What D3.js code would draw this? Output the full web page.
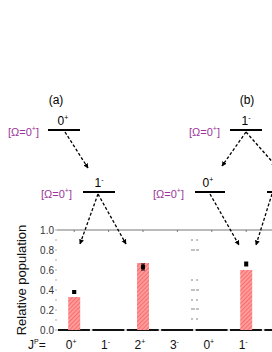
<!DOCTYPE html>
<html lang="en">
<head>
<meta charset="utf-8">
<script src="https://d3js.org/d3.v7.min.js"></script>
<style>
  body { margin: 0; background: #fff; }
  svg { font-family: "Liberation Sans", Arial, sans-serif; }
</style>
</head>
<body>
<svg width="272" height="352"></svg>
<script>
// spin-parity categories along the x axis
var states = ["0", "1", "2", "3", "0", "1", "2"];
var parity = ["+", "-", "+", "-", "+", "-", "+"];
// theory bars (hatched) and measured points
var barValues = [0.33, 0, 0.67, 0, 0, 0.60, 0];
var pointIdx = [0, 2, 5];
var pointValues = [0.38, 0.63, 0.66];
var pointErr = [0.01, 0.03, 0.02];
var yTicks = [0, 0.2, 0.4, 0.6, 0.8, 1.0];
var sepDashes = [0.9, 0.8, 0.5, 0.4, 0.3, 0.21, 0.11];

var svg = d3.select("svg");
var purple = "#9b359b";

var x = d3.scaleBand().domain(d3.range(states.length)).range([57, 57 + 7 * 34.4]);
var y = d3.scaleLinear().domain([0, 1]).range([330, 230]);

// hatch pattern
var defs = svg.append("defs");
var pat = defs.append("pattern")
    .attr("id", "hatch").attr("patternUnits", "userSpaceOnUse")
    .attr("width", 3).attr("height", 3)
    .attr("patternTransform", "rotate(45)");
pat.append("rect").attr("width", 3).attr("height", 3).attr("fill", "#ff9a9a");
pat.append("line").attr("x1", 0).attr("y1", 0).attr("x2", 0).attr("y2", 3)
    .attr("stroke", "#f05050").attr("stroke-width", 1.2);

defs.append("marker")
    .attr("id", "arr").attr("viewBox", "0 0 10 10")
    .attr("refX", 9).attr("refY", 5)
    .attr("markerWidth", 5).attr("markerHeight", 6)
    .attr("markerUnits", "userSpaceOnUse")
    .attr("orient", "auto")
  .append("path").attr("d", "M0,0 L10,5 L0,10 z").attr("fill", "#000");

// top frame line
svg.append("line").attr("x1", 57).attr("x2", 272).attr("y1", y(1)).attr("y2", y(1))
    .attr("stroke", "#777").attr("stroke-width", 1);
svg.selectAll(".toptick").data(d3.range(states.length)).enter().append("line")
    .attr("x1", function(d) { return x(d) + x.bandwidth() / 2; })
    .attr("x2", function(d) { return x(d) + x.bandwidth() / 2; })
    .attr("y1", y(1)).attr("y2", y(1) + 2)
    .attr("stroke", "#777");

// baseline
svg.append("line").attr("x1", 57).attr("x2", 272).attr("y1", y(0)).attr("y2", y(0))
    .attr("stroke", "#999").attr("stroke-width", 0.6);
svg.selectAll(".seg").data(d3.range(states.length)).enter().append("line")
    .attr("x1", function(d) { return x(d) + 1; })
    .attr("x2", function(d) { return x(d) + x.bandwidth() - 1.5; })
    .attr("y1", y(0)).attr("y2", y(0))
    .attr("stroke", "#111").attr("stroke-width", 2);

// y axis
var yAxis = svg.append("g");
yAxis.selectAll("text").data(yTicks).enter().append("text")
    .attr("x", 54).attr("y", function(d) { return y(d) + 3.5; })
    .attr("text-anchor", "end").attr("font-size", 10).attr("fill", "#333")
    .text(function(d) { return d.toFixed(1); });
yAxis.selectAll("line").data(d3.range(0, 1.01, 0.1)).enter().append("line")
    .attr("x1", 55).attr("x2", 57)
    .attr("y1", function(d) { return y(d); }).attr("y2", function(d) { return y(d); })
    .attr("stroke", "#777").attr("stroke-width", 0.6);
svg.append("text")
    .attr("transform", "translate(26," + y(0.5) + ") rotate(-90)")
    .attr("text-anchor", "middle").attr("font-size", 13).attr("fill", "#111")
    .text("Relative population");

// separator dashes
svg.selectAll(".sep").data(sepDashes).enter().append("line")
    .attr("x1", 191).attr("x2", 199)
    .attr("y1", function(d) { return y(d); }).attr("y2", function(d) { return y(d); })
    .attr("stroke", "#666").attr("stroke-width", 0.8)
    .attr("stroke-dasharray", function(d, i) { return i % 2 ? "4,1" : "2,3"; });

// bars
svg.selectAll(".bar").data(barValues).enter().append("rect")
    .attr("x", function(d, i) { return x(i) + x.bandwidth() / 2 - 6; })
    .attr("width", 12)
    .attr("y", function(d) { return y(d); })
    .attr("height", function(d) { return y(0) - y(d); })
    .attr("fill", "url(#hatch)");

// points with error bars
function px(i) { return x(pointIdx[i]) + x.bandwidth() / 2; }
var pts = svg.selectAll(".pt").data(pointValues).enter().append("g");
pts.append("line")
    .attr("x1", function(d, i) { return px(i); }).attr("x2", function(d, i) { return px(i); })
    .attr("y1", function(d, i) { return y(d + pointErr[i]); })
    .attr("y2", function(d, i) { return y(d - pointErr[i]); })
    .attr("stroke", "#000").attr("stroke-width", 1);
[1, -1].forEach(function(s) {
  pts.append("line")
      .attr("x1", function(d, i) { return px(i) - 2; }).attr("x2", function(d, i) { return px(i) + 2; })
      .attr("y1", function(d, i) { return y(d + s * pointErr[i]); })
      .attr("y2", function(d, i) { return y(d + s * pointErr[i]); })
      .attr("stroke", "#000").attr("stroke-width", 1);
});
pts.append("rect")
    .attr("x", function(d, i) { return px(i) - 2; })
    .attr("y", function(d) { return y(d) - 2; })
    .attr("width", 4).attr("height", 4).attr("fill", "#000");

// x labels
var xl = svg.append("text").attr("y", 349).attr("font-size", 12).attr("fill", "#111");
xl.append("tspan").attr("x", 28).text("J");
xl.append("tspan").attr("dy", -5).attr("font-size", 7).text("P");
xl.append("tspan").attr("dy", 5).text("=");
svg.selectAll(".xl").data(states.slice(0, 6)).enter().append("text")
    .attr("x", function(d, i) { return x(i) + x.bandwidth() / 2 - 3; })
    .attr("y", 349).attr("font-size", 12).attr("text-anchor", "middle").attr("fill", "#111")
    .each(function(d, i) {
      var t = d3.select(this);
      t.append("tspan").text(d);
      t.append("tspan").attr("dy", -5).attr("font-size", 7).text(parity[i]);
    });

// level scheme
var levels = [
  {x1: 48, x2: 80, y: 130, j: "0", p: "+", lx: 63, tag: [8, 132]},
  {x1: 83, x2: 115, y: 192, j: "1", p: "-", lx: 99, tag: [41, 194]},
  {x1: 230, x2: 262, y: 130, j: "1", p: "-", lx: 246, tag: [189, 132]},
  {x1: 195, x2: 225, y: 192, j: "0", p: "+", lx: 208, tag: [153, 194]},
  {x1: 267, x2: 280, y: 192, j: null}
];
var arrows = [
  [65, 132, 88, 168], [98, 194, 80, 244], [98, 194, 126, 244],
  [246, 132, 222, 166], [246, 132, 276, 166],
  [210, 194, 239, 245], [272, 194, 256, 245]
];
svg.selectAll(".lev").data(levels).enter().append("line")
    .attr("x1", function(d) { return d.x1; }).attr("x2", function(d) { return d.x2; })
    .attr("y1", function(d) { return d.y; }).attr("y2", function(d) { return d.y; })
    .attr("stroke", "#000").attr("stroke-width", 2);
levels.filter(function(d) { return d.j; }).forEach(function(d) {
  var t = svg.append("text").attr("x", d.lx).attr("y", d.y - 5)
      .attr("font-size", 12).attr("text-anchor", "middle").attr("fill", "#000");
  t.append("tspan").text(d.j);
  t.append("tspan").attr("dy", -5).attr("font-size", 7).text(d.p);
  var g = svg.append("text").attr("x", d.tag[0]).attr("y", d.tag[1] + 4)
      .attr("font-size", 11).attr("fill", purple);
  g.append("tspan").text("[\u03A9=0");
  g.append("tspan").attr("dy", -5).attr("font-size", 7).text("+");
  g.append("tspan").attr("dy", 5).text("]");
});
svg.selectAll(".arrow").data(arrows).enter().append("line")
    .attr("x1", function(d) { return d[0]; }).attr("y1", function(d) { return d[1]; })
    .attr("x2", function(d) { return d[2]; }).attr("y2", function(d) { return d[3]; })
    .attr("stroke", "#000").attr("stroke-width", 1.3)
    .attr("stroke-dasharray", "3,2")
    .attr("marker-end", "url(#arr)");

svg.append("text").attr("x", 56).attr("y", 104).attr("font-size", 12)
    .attr("text-anchor", "middle").text("(a)");
svg.append("text").attr("x", 247).attr("y", 104).attr("font-size", 12)
    .attr("text-anchor", "middle").text("(b)");
</script>
</body>
</html>
